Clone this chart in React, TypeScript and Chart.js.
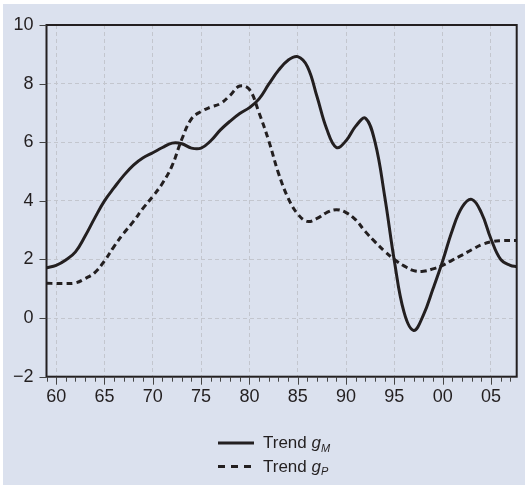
import React, { useEffect, useRef } from 'react';
import { Chart, registerables } from 'chart.js';

Chart.register(...registerables);

const years = [
  1959, 1960, 1961, 1962, 1963, 1964, 1965, 1966, 1967, 1968,
  1969, 1970, 1971, 1972, 1973, 1974, 1975, 1976, 1977, 1978,
  1979, 1980, 1981, 1982, 1983, 1984, 1985, 1986, 1987, 1988,
  1989, 1990, 1991, 1992, 1993, 1994, 1995, 1996, 1997, 1998,
  1999, 2000, 2001, 2002, 2003, 2004, 2005, 2006, 2007, 2007.66,
];

const trendGM = [
  1.72, 1.8, 1.98, 2.26, 2.8, 3.42, 4.0, 4.45, 4.87, 5.22,
  5.47, 5.64, 5.82, 5.97, 5.95, 5.8, 5.8, 6.05, 6.42, 6.72,
  6.98, 7.18, 7.48, 7.98, 8.45, 8.8, 8.92, 8.58, 7.55, 6.45,
  5.82, 6.05, 6.55, 6.82, 6.0, 4.15, 1.95, 0.2, -0.42, 0.1,
  1.0, 1.95, 3.0, 3.78, 4.05, 3.6, 2.7, 2.0, 1.8, 1.76,
];

const trendGP = [
  1.19, 1.18, 1.18, 1.2, 1.35, 1.55, 1.95, 2.45, 2.9, 3.3,
  3.75, 4.15, 4.6, 5.2, 6.1, 6.8, 7.05, 7.2, 7.32, 7.6,
  7.92, 7.8, 7.0, 6.05, 4.95, 4.1, 3.55, 3.3, 3.4, 3.6,
  3.7, 3.6, 3.35, 2.95, 2.6, 2.28, 2.0, 1.78, 1.62, 1.6,
  1.68, 1.8, 1.98, 2.15, 2.33, 2.5, 2.6, 2.64, 2.65, 2.65,
];

const xTickValues = [1960, 1965, 1970, 1975, 1980, 1985, 1990, 1995, 2000, 2005];
const xTickLabels = ['60', '65', '70', '75', '80', '85', '90', '95', '00', '05'];
const yTickValues = [-2, 0, 2, 4, 6, 8, 10];
const legendLabels = ['Trend ', 'Trend '];
const legendSymbols = ['g', 'g'];
const legendSubs = ['M', 'P'];

const X_MIN = 1959;
const X_MAX = 2007.66;
const INK = '#231f20';
const BG = '#dbe1ee';
const FONT = '"Liberation Sans", Arial, Helvetica, sans-serif';

const framePlugin = {
  id: 'framePlugin',
  beforeDraw(chart: any) {
    const { ctx, width, height } = chart;
    ctx.save();
    ctx.fillStyle = '#ffffff';
    ctx.fillRect(0, 0, width, height);
    ctx.fillStyle = BG;
    ctx.fillRect(3, 4, width - 3, height - 4);
    ctx.restore();
  },
  afterDraw(chart: any) {
    const { ctx, chartArea } = chart;
    const xs = chart.scales.x;
    const ys = chart.scales.y;
    ctx.save();
    ctx.strokeStyle = INK;
    ctx.lineWidth = 2;
    ctx.strokeRect(chartArea.left, chartArea.top, chartArea.right - chartArea.left, chartArea.bottom - chartArea.top);
    ctx.lineWidth = 1;
    ctx.strokeStyle = '#444';
    yTickValues.forEach((v) => {
      const y = Math.round(ys.getPixelForValue(v)) + 0.5;
      ctx.beginPath();
      ctx.moveTo(chartArea.left - 7, y);
      ctx.lineTo(chartArea.left, y);
      ctx.stroke();
    });
    for (let yr = Math.ceil(X_MIN); yr <= Math.floor(X_MAX); yr++) {
      const x = Math.round(xs.getPixelForValue(yr)) + 0.5;
      const len = yr % 5 === 0 ? 8 : 5;
      ctx.beginPath();
      ctx.moveTo(x, chartArea.bottom);
      ctx.lineTo(x, chartArea.bottom + len);
      ctx.stroke();
    }
    const rows = [
      { y: 448, dash: [] as number[] },
      { y: 471.5, dash: [7, 6] },
    ];
    rows.forEach((r, i) => {
      ctx.strokeStyle = INK;
      ctx.lineWidth = 3;
      ctx.setLineDash(r.dash);
      ctx.beginPath();
      ctx.moveTo(218, r.y - 5);
      ctx.lineTo(i === 0 ? 254 : 251, r.y - 5);
      ctx.stroke();
      ctx.setLineDash([]);
      ctx.fillStyle = INK;
      ctx.textBaseline = 'alphabetic';
      ctx.textAlign = 'left';
      ctx.font = `17px ${FONT}`;
      let x = 263;
      ctx.fillText(legendLabels[i], x, r.y);
      x += ctx.measureText(legendLabels[i]).width;
      ctx.font = `italic 17px ${FONT}`;
      ctx.fillText(legendSymbols[i], x, r.y);
      x += ctx.measureText(legendSymbols[i]).width;
      ctx.font = `italic 11px ${FONT}`;
      ctx.fillText(legendSubs[i], x, r.y + 3.5);
    });
    ctx.restore();
  },
};

export default function App() {
  const ref = useRef<HTMLCanvasElement | null>(null);

  useEffect(() => {
    document.body.style.margin = '0';
    const canvas = ref.current;
    if (!canvas) return;
    const chart = new Chart(canvas, {
      type: 'line',
      data: {
        datasets: [
          {
            label: 'Trend gM',
            data: years.map((x, i) => ({ x, y: trendGM[i] })),
            borderColor: INK,
            borderWidth: 3,
            pointRadius: 0,
            fill: false,
            tension: 0.4,
          },
          {
            label: 'Trend gP',
            data: years.map((x, i) => ({ x, y: trendGP[i] })),
            borderColor: INK,
            borderWidth: 3,
            borderDash: [6, 4],
            pointRadius: 0,
            fill: false,
            tension: 0.4,
          },
        ],
      },
      options: {
        animation: false,
        responsive: false,
        layout: { padding: { left: 0, top: 25, right: 8.3, bottom: 68.3 } },
        plugins: { legend: { display: false }, tooltip: { enabled: false } },
        scales: {
          x: {
            type: 'linear',
            min: X_MIN,
            max: X_MAX,
            afterBuildTicks: (s: any) => {
              s.ticks = xTickValues.map((v) => ({ value: v }));
            },
            afterFit: (s: any) => {
              s.height = 40;
            },
            ticks: {
              autoSkip: false,
              maxRotation: 0,
              padding: 10,
              color: INK,
              font: { family: FONT, size: 18 },
              callback: (v: any) => {
                const idx = xTickValues.indexOf(Number(v));
                return idx >= 0 ? xTickLabels[idx] : '';
              },
            },
            grid: { color: '#c3c6ce', lineWidth: 1, drawTicks: false },
            border: { display: false, dash: [4, 3] },
          },
          y: {
            type: 'linear',
            min: -2,
            max: 10,
            afterBuildTicks: (s: any) => {
              s.ticks = yTickValues.map((v) => ({ value: v }));
            },
            afterFit: (s: any) => {
              s.width = 46.5;
            },
            ticks: {
              padding: 13,
              color: INK,
              font: { family: FONT, size: 18 },
              callback: (v: any) => (Number(v) < 0 ? '\u2212' + Math.abs(Number(v)) : String(v)),
            },
            grid: { color: '#c3c6ce', lineWidth: 1, drawTicks: false },
            border: { display: false, dash: [4, 3] },
          },
        },
      },
      plugins: [framePlugin],
    });
    return () => chart.destroy();
  }, []);

  return (
    <div style={{ width: 525, height: 485 }}>
      <canvas ref={ref} width={525} height={485} style={{ display: 'block' }} />
    </div>
  );
}
